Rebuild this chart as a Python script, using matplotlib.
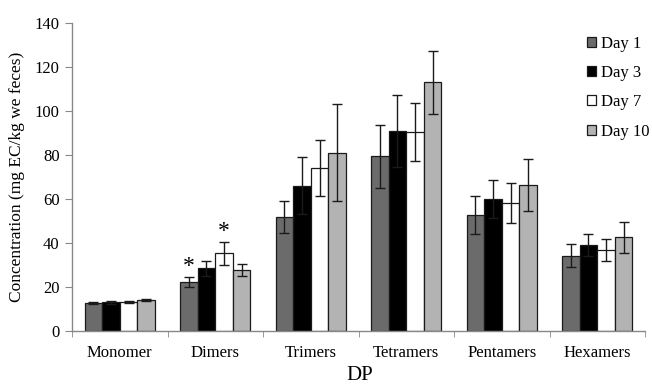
import numpy as np
import matplotlib.pyplot as plt

plt.rcParams['font.family'] = ['Liberation Serif', 'DejaVu Serif']

categories = ["Monomer", "Dimers", "Trimers", "Tetramers", "Pentamers", "Hexamers"]
days = ["Day 1", "Day 3", "Day 7", "Day 10"]

day1 = [12.9, 22.2, 51.8, 79.4, 52.7, 34.2]
day3 = [13.1, 28.5, 66.0, 91.0, 60.0, 39.1]
day7 = [13.1, 35.3, 74.0, 90.5, 58.3, 37.0]
day10 = [14.0, 27.7, 81.0, 113.0, 66.4, 42.6]

err1 = [0.4, 2.2, 7.3, 14.3, 8.8, 5.2]
err3 = [0.6, 3.3, 13.0, 16.5, 8.6, 4.8]
err7 = [0.4, 5.2, 12.7, 13.2, 9.0, 5.0]
err10 = [0.5, 2.8, 22.0, 14.3, 11.8, 7.0]

# asterisks over Dimers: Day 1 and Day 7
signif = [("Dimers", 0), ("Dimers", 2)]

colors = ["#6b6b6b", "#000000", "#ffffff", "#b3b3b3"]
values = [day1, day3, day7, day10]
errors = [err1, err3, err7, err10]

fig = plt.figure(figsize=(6.52, 3.86), dpi=100)
ax = fig.add_axes([72 / 652, 1 - 331 / 386, (645 - 72) / 652, (331 - 23) / 386])

x = np.arange(len(categories))
width = 0.184
offsets = (np.arange(4) - 1.5) * width

for i in range(4):
    ax.bar(x + offsets[i], values[i], width, yerr=errors[i], color=colors[i],
           edgecolor="#1a1a1a", linewidth=0.9, label=days[i],
           error_kw=dict(ecolor="#1a1a1a", elinewidth=1.0, capsize=3.5, capthick=1.0))

for cat, i in signif:
    c = categories.index(cat)
    top = values[i][c] + errors[i][c]
    ax.text(x[c] + offsets[i], top + 4.8, "*", ha="center", va="center", fontsize=17)

ax.set_xlim(-0.5, len(categories) - 0.5)
ax.set_ylim(0, 140)
ax.set_yticks(np.arange(0, 141, 20))
ax.set_xticks(x)
ax.set_xticklabels(categories)
ax.set_xticks(np.arange(len(categories) + 1) - 0.5, minor=True)
ax.tick_params(axis="x", which="major", length=0, pad=10, labelsize=12)
ax.tick_params(axis="x", which="minor", length=4, color="#888888", direction="out")
ax.tick_params(axis="y", length=5, color="#888888", labelsize=12, pad=4)

for s in ["top", "right"]:
    ax.spines[s].set_visible(False)
for s in ["left", "bottom"]:
    ax.spines[s].set_color("#888888")
    ax.spines[s].set_linewidth(1.0)

ax.set_ylabel("Concentration (mg EC/kg we feces)", fontsize=12.5, labelpad=7)
ax.set_xlabel("DP", fontsize=15)
ax.xaxis.set_label_coords((360 - 72) / 573, (331 - 366) / 308)

ax.legend(loc="upper left", bbox_to_anchor=(580 / 652, 1 - 29 / 386),
          bbox_transform=fig.transFigure, frameon=False, fontsize=12,
          handlelength=0.55, handleheight=0.55, handletextpad=0.3,
          labelspacing=0.8, borderaxespad=0)

fig.savefig("out.png", dpi=100)
